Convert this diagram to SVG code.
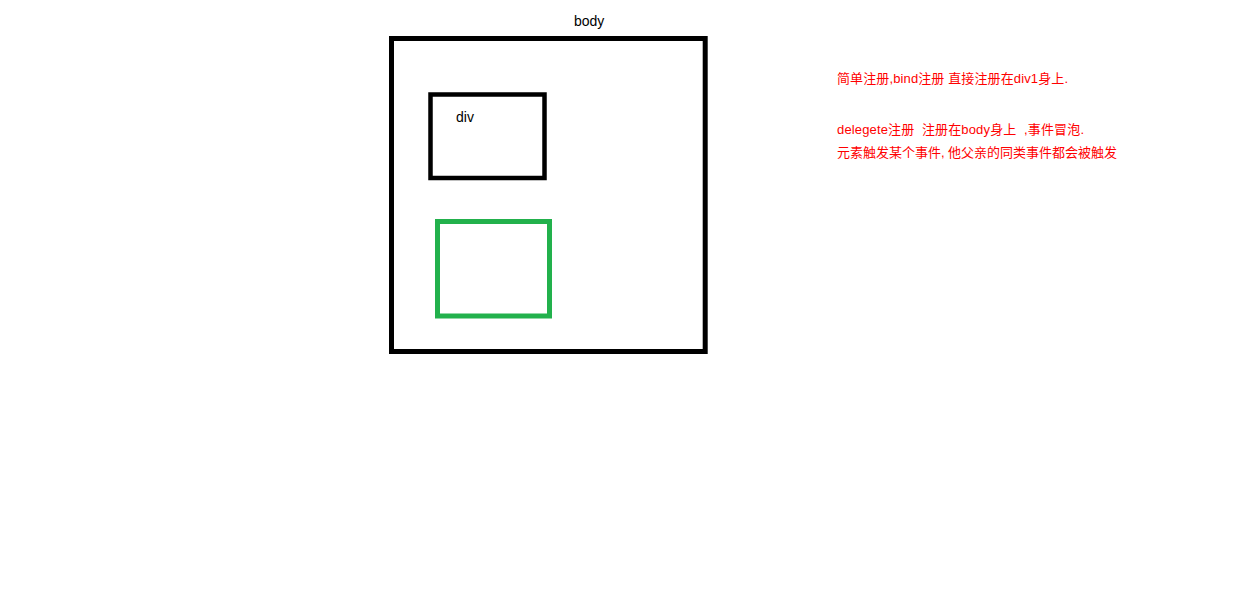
<svg xmlns="http://www.w3.org/2000/svg" width="1233" height="596" viewBox="0 0 1233 596">
<style>
.box{fill:none;stroke:#000;stroke-width:5}
.green{fill:none;stroke:#22b14c;stroke-width:5}
.lbl{font-family:"Liberation Sans","Noto Sans CJK SC",sans-serif;font-size:14px;fill:#000}
.note{font-family:"Liberation Sans","Noto Sans CJK SC",sans-serif;font-size:13px;fill:#ff0000;white-space:pre}
</style>
<rect width="1233" height="596" fill="#fff"/>
<g id="body-node">
<rect class="box" x="391.5" y="38.5" width="313.7" height="313"/>
<text class="lbl" x="574" y="26">body</text>
</g>
<g id="div-node">
<rect class="box" x="430.5" y="94.5" width="114" height="83.5" style="stroke-width:4.5"/>
<text class="lbl" x="456" y="122">div</text>
</g>
<g id="green-node">
<rect class="green" x="437.5" y="221.5" width="112" height="94.5"/>
</g>
<g id="connectors"/>
<g id="notes">
<text class="note" x="837" y="83" xml:space="preserve" textLength="231" lengthAdjust="spacing">简单注册,bind注册 直接注册在div1身上.</text>
<text class="note" x="837" y="133.5" xml:space="preserve" textLength="247" lengthAdjust="spacing">delegete注册  注册在body身上  ,事件冒泡.</text>
<text class="note" x="837" y="157" xml:space="preserve" textLength="280" lengthAdjust="spacing">元素触发某个事件, 他父亲的同类事件都会被触发</text>
</g>
</svg>
